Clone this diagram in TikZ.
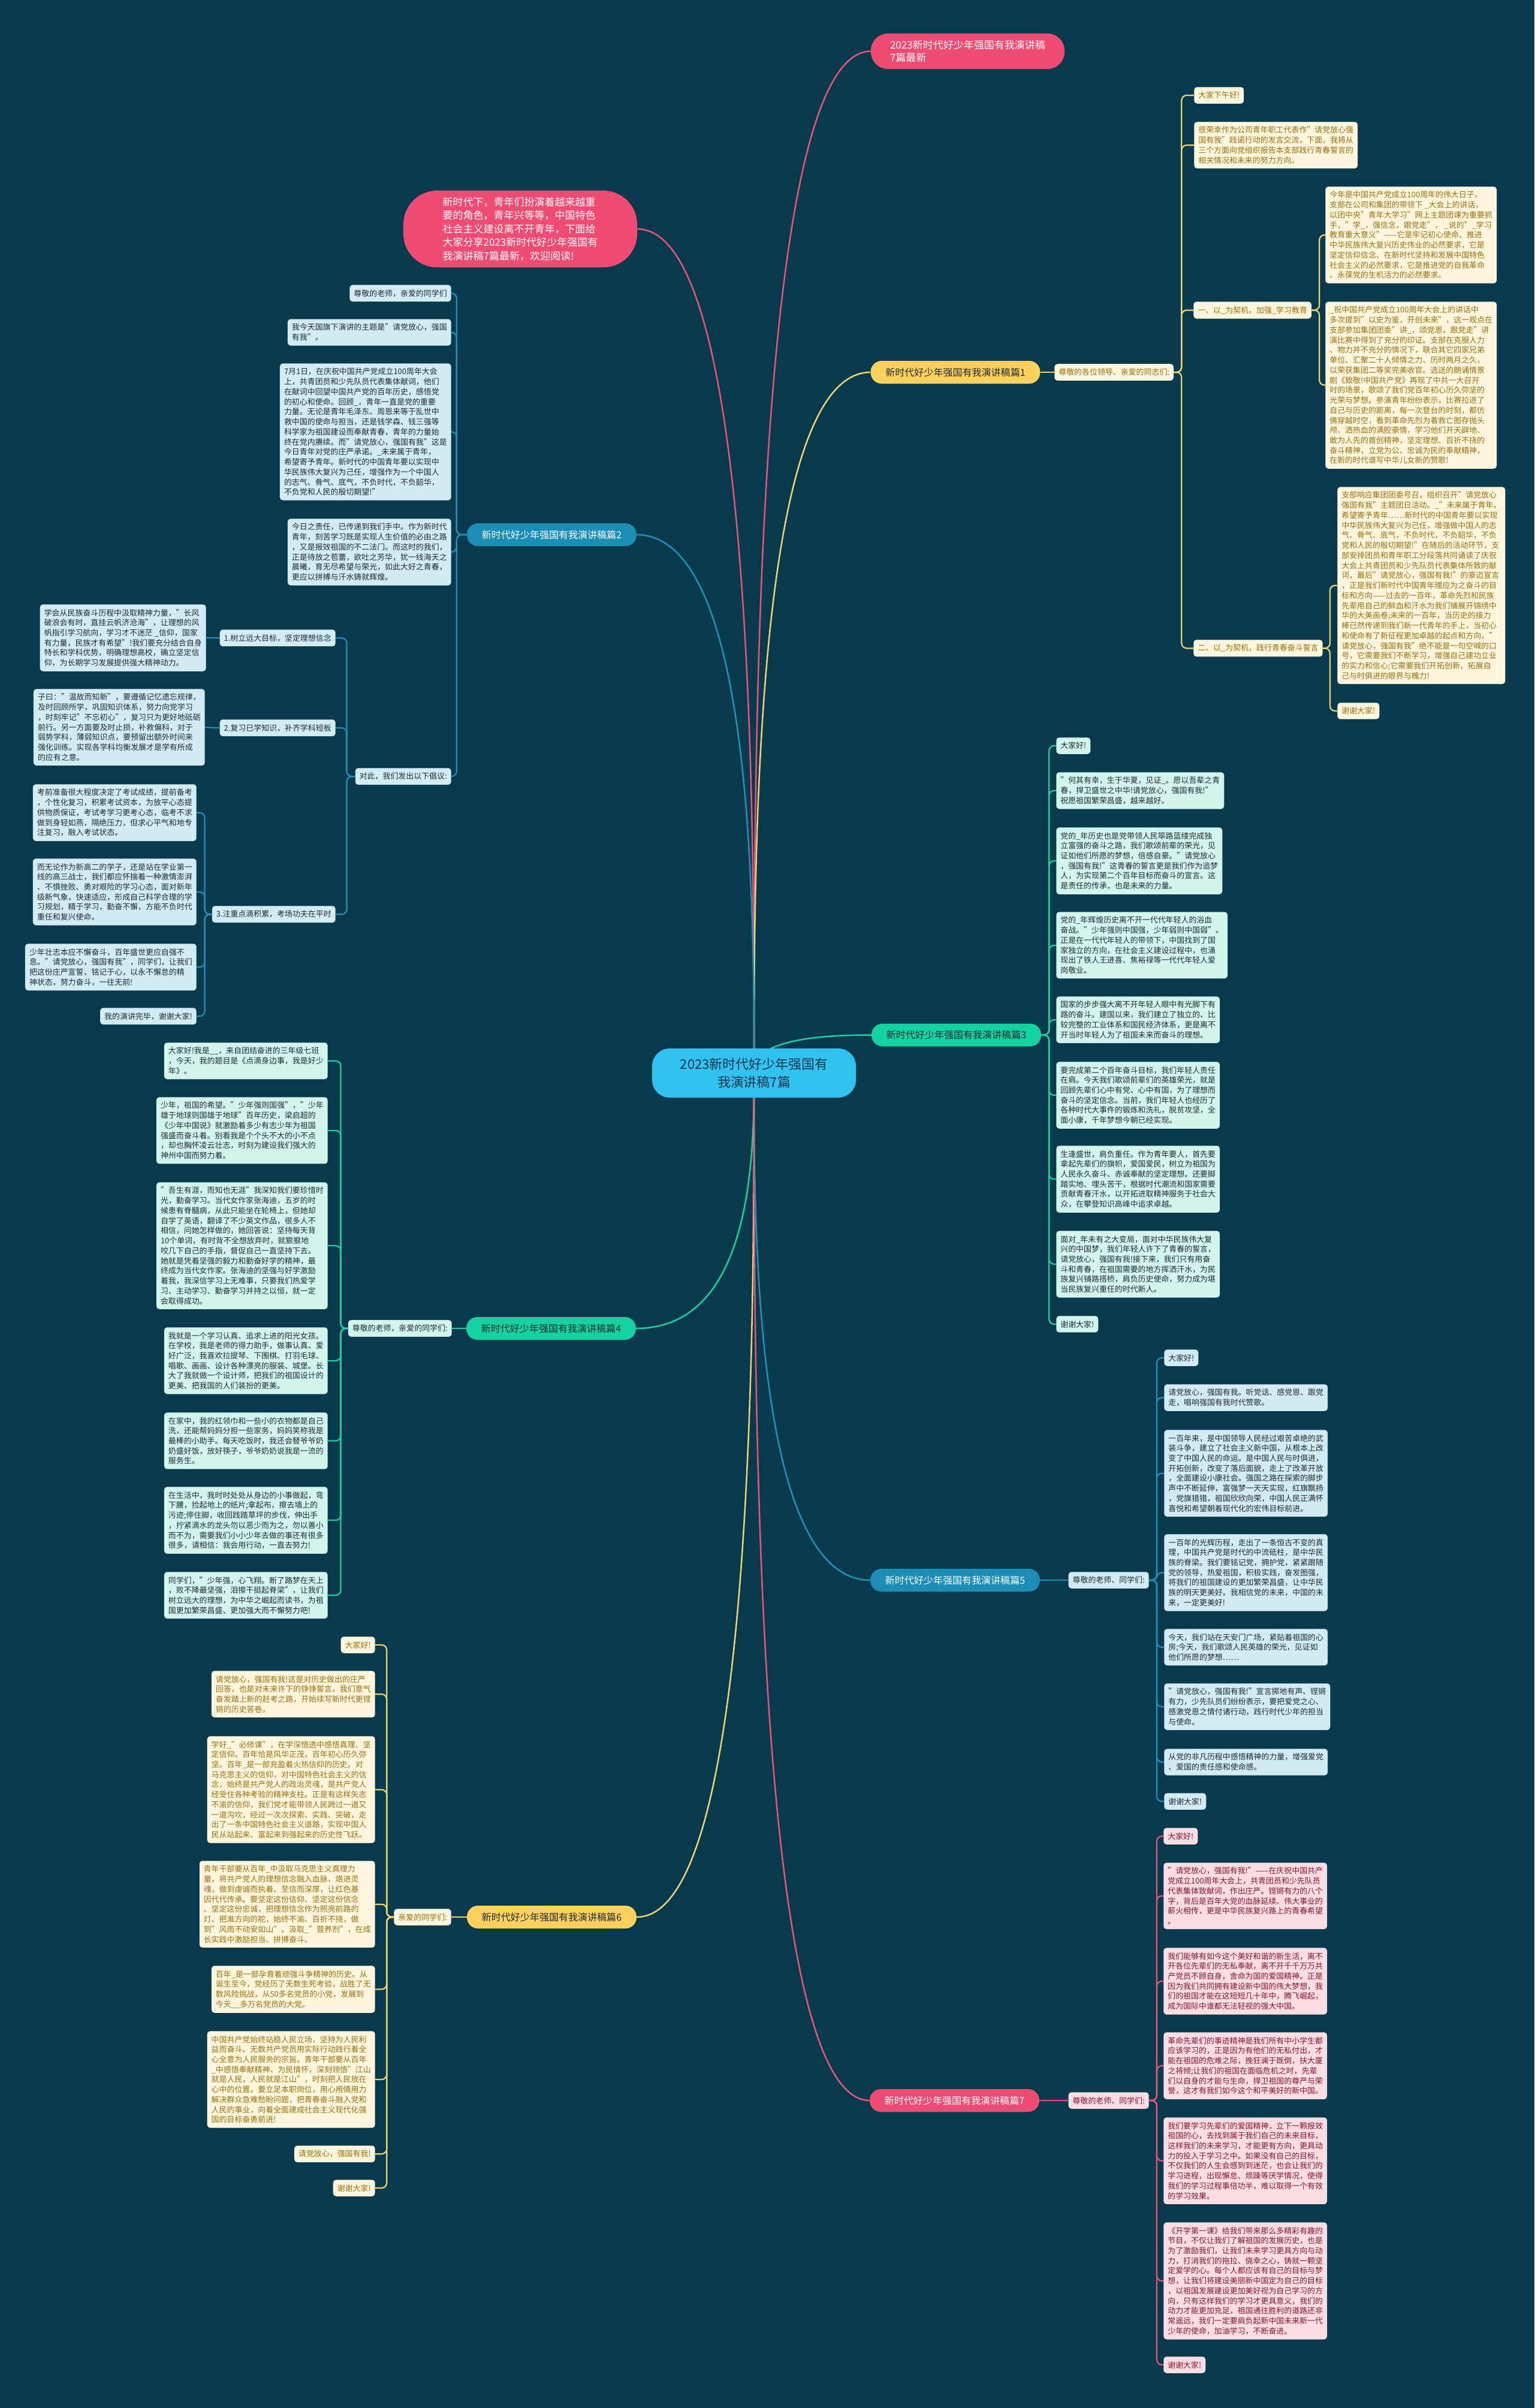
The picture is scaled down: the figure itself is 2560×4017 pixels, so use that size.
\documentclass[tikz,border=0pt]{standalone}
\usepackage{fontspec}
\setmainfont{Noto Sans CJK SC}
\usetikzlibrary{calc,backgrounds}

\definecolor{bgdark}{HTML}{083A4D}
\definecolor{pinkmain}{HTML}{EF4B73}
\definecolor{cyanmain}{HTML}{30C3F2}
\definecolor{yelmain}{HTML}{FDD15B}
\definecolor{bluemain}{HTML}{1B8EB7}
\definecolor{greenmain}{HTML}{14D3A0}
\definecolor{roottext}{HTML}{173447}
\definecolor{darktext}{HTML}{1D2B33}
\definecolor{creamfill}{HTML}{FFF6DD}
\definecolor{goldtext}{HTML}{97700E}
\definecolor{bluefill}{HTML}{D3ECF3}
\definecolor{mintfill}{HTML}{D2F6EC}
\definecolor{pinkfill}{HTML}{FBDDE3}
\definecolor{pinktext}{HTML}{861438}
\definecolor{yelline}{HTML}{F2D070}
\definecolor{blueline}{HTML}{1E90BA}
\definecolor{greenline}{HTML}{16D0A0}
\definecolor{pinkline}{HTML}{E8537A}

\newcommand\rootfont{\fontsize{15.6}{21.3}\selectfont}
\newcommand\headfont{\fontsize{12.1}{15}\selectfont}
\newcommand\introfont{\fontsize{12.1}{16}\selectfont}
\newcommand\branchfont{\fontsize{11.4}{13}\selectfont}
\newcommand\leaffont{\fontsize{9.2}{11.9}\selectfont}

\begin{document}
\begin{tikzpicture}[x=0.025cm, y=-0.025cm,
  rootbox/.style={fill=cyanmain, text=roottext, rounded corners=21pt,
                  minimum width=8.5cm, minimum height=2.05cm,
                  align=center, font=\rootfont},
  headbox/.style={fill=pinkmain, text=white, align=left, font=\headfont},
  branch/.style={rounded corners=13pt, minimum width=7.07cm,
                 minimum height=0.95cm, font=\branchfont, inner sep=0pt},
  leaf/.style={rounded corners=3.5pt, align=left, font=\leaffont,
               inner xsep=5pt, inner ysep=5.5pt},
  leafY/.style={leaf, fill=creamfill, text=goldtext},
  leafB/.style={leaf, fill=bluefill, text=darktext},
  leafG/.style={leaf, fill=mintfill, text=darktext},
  leafP/.style={leaf, fill=pinkfill, text=pinktext},
  trunk/.style={line width=1.8pt},
  link/.style={line width=1.6pt, rounded corners=6pt}
]
%% Centre and the two pink heads
\node[rootbox] (root) at (1258,1790) {2023新时代好少年强国有\\我演讲稿7篇};
\node[headbox, rounded corners=20pt, minimum width=8.075cm, minimum height=1.475cm]
  (title) at (1614.5,85.5) {2023新时代好少年强国有我演讲稿\\7篇最新};
\node[headbox, font=\introfont, rounded corners=40pt, minimum width=9.75cm, minimum height=3.2cm]
  (intro) at (868,382) {新时代下，青年们扮演着越来越重\\要的角色，青年兴等等，中国特色\\社会主义建设离不开青年，下面给\\大家分享2023新时代好少年强国有\\我演讲稿7篇最新，欢迎阅读!};

%% Branch nodes
\node[branch, fill=yelmain, text=darktext] (b1) at (1594,621) {新时代好少年强国有我演讲稿篇1};
\node[branch, fill=bluemain, text=white] (b2) at (920.5,892) {新时代好少年强国有我演讲稿篇2};
\node[branch, fill=greenmain, text=darktext] (b3) at (1595.5,1726.5) {新时代好少年强国有我演讲稿篇3};
\node[branch, fill=greenmain, text=darktext] (b4) at (919.5,2216) {新时代好少年强国有我演讲稿篇4};
\node[branch, fill=bluemain, text=white] (b5) at (1593.5,2636) {新时代好少年强国有我演讲稿篇5};
\node[branch, fill=yelmain, text=darktext] (b6) at (920.5,3198) {新时代好少年强国有我演讲稿篇6};
\node[branch, fill=pinkmain, text=white] (b7) at (1592.5,3504) {新时代好少年强国有我演讲稿篇7};

%% Part 1
\node[leafY, anchor=west] (l1) at (1759,621) {尊敬的各位领导、亲爱的同志们:};
\node[leafY, anchor=north west] (p1a) at (1992,145) {大家下午好!};
\node[leafY, anchor=north west] (p1b) at (1992,203) {很荣幸作为公司青年职工代表作"请党放心强\\国有我"践诺行动的发言交流，下面，我将从\\三个方面向党组织报告本支部践行青春誓言的\\相关情况和未来的努力方向。};
\node[leafY, anchor=north west] (p1c) at (1991,503) {一、以\_为契机，加强\_学习教育};
\node[leafY, anchor=north west] (p1c1) at (2211,311) {今年是中国共产党成立100周年的伟大日子，\\支部在公司和集团的带领下 \_大会上的讲话，\\以团中央"青年大学习"网上主题团课为重要抓\\手，"学\_，强信念，跟党走"， \_说的"\_学习\\教育重大意义"——它是牢记初心使命、推进\\中华民族伟大复兴历史伟业的必然要求，它是\\坚定信仰信念、在新时代坚持和发展中国特色\\社会主义的必然要求，它是推进党的自我革命\\、永葆党的生机活力的必然要求。};
\node[leafY, anchor=north west] (p1c2) at (2211,503) {\_祝中国共产党成立100周年大会上的讲话中\\多次提到"以史为鉴，开创未来"，这一观点在\\支部参加集团团委"讲\_，颂党恩，跟党走"讲\\演比赛中得到了充分的印证。支部在克服人力\\、物力并不充分的情况下，联合其它四家兄弟\\单位、汇聚二十人倾情之力、历时两月之久，\\以荣获集团二等奖完美收官。选送的朗诵情景\\剧《致敬!中国共产党》再现了中共一大召开\\时的场景，歌颂了我们党百年初心历久弥坚的\\光荣与梦想。参演青年纷纷表示，比赛拉进了\\自己与历史的距离，每一次登台的时刻，都仿\\佛穿越时空，看到革命先烈为着救亡图存抛头\\颅、洒热血的满腔豪情，学习他们开天辟地、\\敢为人先的首创精神，坚定理想、百折不挠的\\奋斗精神，立党为公、忠诚为民的奉献精神，\\在新的时代谱写中华儿女新的赞歌!};
\node[leafY, anchor=north west] (p1d) at (1991,1067) {二、以\_为契机，践行青春奋斗誓言};
\node[leafY, anchor=north west] (p1d1) at (2231,812) {支部响应集团团委号召，组织召开"请党放心\\强国有我"主题团日活动。\_"未来属于青年，\\希望寄予青年……新时代的中国青年要以实现\\中华民族伟大复兴为己任，增强做中国人的志\\气、骨气、底气，不负时代，不负韶华，不负\\党和人民的殷切期望!"在随后的活动环节，支\\部安排团员和青年职工分段落共同诵读了庆祝\\大会上共青团员和少先队员代表集体所致的献\\词，最后"请党放心，强国有我!"的豪迈宣言\\，正是我们新时代中国青年理应为之奋斗的目\\标和方向——过去的一百年，革命先烈和民族\\先辈用自己的鲜血和汗水为我们铺展开锦绣中\\华的大美画卷;未来的一百年，当历史的接力\\棒已然传递到我们新一代青年的手上，当初心\\和使命有了新征程更加卓越的起点和方向，"\\请党放心，强国有我"绝不能是一句空喊的口\\号，它需要我们不断学习，增强自己建功立业\\的实力和信心;它需要我们开拓创新，拓展自\\己与时俱进的眼界与魄力!};
\node[leafY, anchor=north west] (p1d2) at (2231,1172) {谢谢大家!};

%% Part 2
\node[leafB, anchor=north east] (p2a) at (753,475) {尊敬的老师，亲爱的同学们};
\node[leafB, anchor=north east] (p2b) at (753,532) {我今天国旗下演讲的主题是"请党放心，强国\\有我"。};
\node[leafB, anchor=north east] (p2c) at (753,606) {7月1日，在庆祝中国共产党成立100周年大会\\上，共青团员和少先队员代表集体献词，他们\\在献词中回望中国共产党的百年历史，感悟党\\的初心和使命。回顾\_，青年一直是党的重要\\力量。无论是青年毛泽东、周恩来等于乱世中\\救中国的使命与担当，还是钱学森、钱三强等\\科学家为祖国建设而奉献青春，青年的力量始\\终在党内赓续。而"请党放心，强国有我"这是\\今日青年对党的庄严承诺。\_未来属于青年，\\希望寄予青年。新时代的中国青年要以实现中\\华民族伟大复兴为己任，增强作为一个中国人\\的志气、骨气、底气，不负时代，不负韶华，\\不负党和人民的殷切期望!"};
\node[leafB, anchor=north east] (p2d) at (753,865) {今日之责任，已传递到我们手中。作为新时代\\青年，刻苦学习既是实现人生价值的必由之路\\，又是报效祖国的不二法门。而这时的我们，\\正是待放之苞蕾，欲吐之芳华，犹一线海天之\\晨曦，育无尽希望与荣光，如此大好之青春，\\更应以拼搏与汗水铸就辉煌。};
\node[leafB, anchor=north east] (p2e) at (753,1281) {对此，我们发出以下倡议:};
\node[leafB, anchor=north east] (p2e1) at (560,1050) {1.树立远大目标，坚定理想信念};
\node[leafB, anchor=north east] (p2e1a) at (344,1008) {学会从民族奋斗历程中汲取精神力量，"长风\\破浪会有时，直挂云帆济沧海"，让理想的风\\帆指引学习航向，学习才不迷茫 \_信仰，国家\\有力量，民族才有希望"!我们要充分结合自身\\特长和学科优势，明确理想高校，确立坚定信\\仰，为长期学习发展提供强大精神动力。};
\node[leafB, anchor=north east] (p2e2) at (560,1200) {2.复习已学知识，补齐学科短板};
\node[leafB, anchor=north east] (p2e2a) at (342,1149) {子曰："温故而知新"，要遵循记忆遗忘规律，\\及时回顾所学，巩固知识体系，努力向党学习\\，时刻牢记"不忘初心"，复习只为更好地砥砺\\前行。另一方面要及时止损，补救偏科，对于\\弱势学科，薄弱知识点，要预留出额外时间来\\强化训练。实现各学科均衡发展才是学有所成\\的应有之意。};
\node[leafB, anchor=north east] (p2e3) at (560,1511) {3.注重点滴积累，考场功夫在平时};
\node[leafB, anchor=north east] (p2e3a) at (328,1308) {考前准备很大程度决定了考试成绩，提前备考\\，个性化复习，积累考试资本，为放平心态提\\供物质保证，考试考学习更考心态，临考不求\\做到身轻如燕，隔绝压力，但求心平气和地专\\注复习，融入考试状态。};
\node[leafB, anchor=north east] (p2e3b) at (328,1432) {而无论作为新高二的学子，还是站在学业第一\\线的高三战士，我们都应怀揣着一种激情澎湃\\、不惧挫败、勇对艰险的学习心态，面对新年\\级新气象，快速适应，形成自己科学合理的学\\习规划，精于学习，勤奋不懈，方能不负时代\\重任和复兴使命。};
\node[leafB, anchor=north east] (p2e3c) at (328,1574) {少年壮志本应不懈奋斗，百年盛世更应自强不\\息。"请党放心，强国有我"，同学们，让我们\\把这份庄严宣誓，铭记于心，以永不懈怠的精\\神状态，努力奋斗，一往无前!};
\node[leafB, anchor=north east] (p2e3d) at (328,1681) {我的演讲完毕，谢谢大家!};

%% Part 3
\node[leafG, anchor=north west] (p3a) at (1762,1230) {大家好!};
\node[leafG, anchor=north west] (p3b) at (1762,1288) {"何其有幸，生于华夏，见证\_。愿以吾辈之青\\春，捍卫盛世之中华!请党放心，强国有我!"\\祝愿祖国繁荣昌盛，越来越好。};
\node[leafG, anchor=north west] (p3c) at (1762,1380) {党的\_年历史也是党带领人民筚路蓝缕完成独\\立富强的奋斗之路，我们歌颂前辈的荣光，见\\证如他们所愿的梦想，倍感自豪。"请党放心\\，强国有我!"这青春的誓言更是我们作为追梦\\人，为实现第二个百年目标而奋斗的宣言。这\\是责任的传承，也是未来的力量。};
\node[leafG, anchor=north west] (p3d) at (1762,1521) {党的\_年辉煌历史离不开一代代年轻人的浴血\\奋战。"少年强则中国强，少年弱则中国弱"。\\正是在一代代年轻人的带领下，中国找到了国\\家独立的方向，在社会主义建设过程中，也涌\\现出了铁人王进喜、焦裕禄等一代代年轻人爱\\岗敬业。};
\node[leafG, anchor=north west] (p3e) at (1762,1662) {国家的步步强大离不开年轻人眼中有光脚下有\\路的奋斗。建国以来，我们建立了独立的、比\\较完整的工业体系和国民经济体系，更是离不\\开当时年轻人为了祖国未来而奋斗的理想。};
\node[leafG, anchor=north west] (p3f) at (1762,1771) {要完成第二个百年奋斗目标，我们年轻人责任\\在肩。今天我们歌颂前辈们的英雄荣光，就是\\回顾先辈们心中有党、心中有国，为了理想而\\奋斗的坚定信念。当前，我们年轻人也经历了\\各种时代大事件的锻炼和洗礼，脱贫攻坚，全\\面小康，千年梦想今朝已经实现。};
\node[leafG, anchor=north west] (p3g) at (1762,1911) {生逢盛世，肩负重任。作为青年要人，首先要\\拿起先辈们的旗帜，爱国爱民，树立为祖国为\\人民永久奋斗、赤诚奉献的坚定理想。还要脚\\踏实地、埋头苦干，根据时代潮流和国家需要\\贡献青春汗水，以开拓进取精神服务于社会大\\众，在攀登知识高峰中追求卓越。};
\node[leafG, anchor=north west] (p3h) at (1762,2053) {面对\_年未有之大变局，面对中华民族伟大复\\兴的中国梦，我们年轻人许下了青春的誓言，\\请党放心，强国有我!接下来，我们只有用奋\\斗和青春，在祖国需要的地方挥洒汗水，为民\\族复兴铺路搭桥，肩负历史使命，努力成为堪\\当民族复兴重任的时代新人。};
\node[leafG, anchor=north west] (p3i) at (1762,2195) {谢谢大家!};

%% Part 4
\node[leafG, anchor=east] (l4) at (754,2216) {尊敬的老师，亲爱的同学们:};
\node[leafG, anchor=north east] (p4a) at (547,1739) {大家好!我是\_\_，来自团结奋进的三年级七班\\，今天，我的题目是《点滴身边事，我是好少\\年》。};
\node[leafG, anchor=north east] (p4b) at (547,1830) {少年，祖国的希望。"少年强则国强"，"少年\\雄于地球则国雄于地球"百年历史，梁启超的\\《少年中国说》就激励着多少有志少年为祖国\\强盛而奋斗着。别看我是个个头不大的小不点\\，却也胸怀凌云壮志，时刻为建设我们强大的\\神州中国而努力着。};
\node[leafG, anchor=north east] (p4c) at (547,1972) {"吾生有涯，而知也无涯"我深知我们要珍惜时\\光，勤奋学习。当代女作家张海迪，五岁的时\\候患有脊髓病，从此只能坐在轮椅上，但她却\\自学了英语，翻译了不少英文作品，很多人不\\相信，问她怎样做的，她回答说：坚持每天背\\10个单词，有时背不全想放弃时，就狠狠地\\咬几下自己的手指，督促自己一直坚持下去。\\她就是凭着坚强的毅力和勤奋好学的精神，最\\终成为当代女作家。张海迪的坚强与好学激励\\着我，我深信学习上无难事，只要我们热爱学\\习、主动学习、勤奋学习并持之以恒，就一定\\会取得成功。};
\node[leafG, anchor=north east] (p4d) at (547,2214) {我就是一个学习认真、追求上进的阳光女孩。\\在学校，我是老师的得力助手，做事认真、爱\\好广泛，我喜欢拉提琴、下围棋、打羽毛球、\\唱歌、画画、设计各种漂亮的服装、城堡。长\\大了我就做一个设计师，把我们的祖国设计的\\更美、把我国的人们装扮的更美。};
\node[leafG, anchor=north east] (p4e) at (547,2356) {在家中，我的红领巾和一些小的衣物都是自己\\洗，还能帮妈妈分担一些家务，妈妈笑称我是\\最棒的小助手。每天吃饭时，我还会替爷爷奶\\奶盛好饭，放好筷子，爷爷奶奶说我是一流的\\服务生。};
\node[leafG, anchor=north east] (p4f) at (547,2480) {在生活中，我时时处处从身边的小事做起，弯\\下腰，捡起地上的纸片;拿起布，擦去墙上的\\污迹;停住脚，收回践踏草坪的步伐，伸出手\\，拧紧滴水的龙头勿以恶少而为之，勿以善小\\而不为，需要我们小小少年去做的事还有很多\\很多，请相信：我会用行动，一直去努力!};
\node[leafG, anchor=north east] (p4g) at (547,2622) {同学们，"少年强，心飞翔。断了路梦在天上\\，败不降最坚强，泪擦干挺起脊梁"，让我们\\树立远大的理想，为中华之崛起而读书，为祖\\国更加繁荣昌盛、更加强大而不懈努力吧!};

%% Part 5
\node[leafB, anchor=east] (l5) at (1917,2636) {尊敬的老师、同学们:};
\node[leafB, anchor=north west] (p5a) at (1942,2251) {大家好!};
\node[leafB, anchor=north west] (p5b) at (1942,2309) {请党放心，强国有我。听党话、感党恩、跟党\\走，唱响强国有我时代赞歌。};
\node[leafB, anchor=north west] (p5c) at (1942,2385) {一百年来，是中国领导人民经过艰苦卓绝的武\\装斗争，建立了社会主义新中国，从根本上改\\变了中国人民的命运。是中国人民与时俱进，\\开拓创新，改变了落后面貌，走上了改革开放\\，全面建设小康社会。强国之路在探索的脚步\\声中不断延伸，富强梦一天天实现，红旗飘扬\\，党旗猎猎，祖国欣欣向荣，中国人民正满怀\\喜悦和希望朝着现代化的宏伟目标前进。};
\node[leafB, anchor=north west] (p5d) at (1942,2559) {一百年的光辉历程，走出了一条恒古不变的真\\理，中国共产党是时代的中流砥柱，是中华民\\族的脊梁。我们要铭记党，拥护党，紧紧跟随\\党的领导，热爱祖国，积极实践，奋发图强，\\将我们的祖国建设的更加繁荣昌盛，让中华民\\族的明天更美好。我相信党的未来，中国的未\\来，一定更美好!};
\node[leafB, anchor=north west] (p5e) at (1942,2717) {今天，我们站在天安门广场，紧贴着祖国的心\\房;今天，我们歌颂人民英雄的荣光，见证如\\他们所愿的梦想……};
\node[leafB, anchor=north west] (p5f) at (1942,2808) {"请党放心，强国有我!"宣言掷地有声、铿锵\\有力，少先队员们纷纷表示，要把爱党之心、\\感激党恩之情付诸行动，践行时代少年的担当\\与使命。};
\node[leafB, anchor=north west] (p5g) at (1942,2917) {从党的非凡历程中感悟精神的力量，增强爱党\\、爱国的责任感和使命感。};
\node[leafB, anchor=north west] (p5h) at (1942,2991) {谢谢大家!};

%% Part 6
\node[leafY, anchor=east] (l6) at (753,3198) {亲爱的同学们:};
\node[leafY, anchor=north east] (p6a) at (626,2730) {大家好!};
\node[leafY, anchor=north east] (p6b) at (626,2787) {请党放心，强国有我!这是对历史做出的庄严\\回答，也是对未来许下的铮铮誓言。我们意气\\奋发踏上新的赶考之路，开始续写新时代更铿\\锵的历史答卷。};
\node[leafY, anchor=north east] (p6c) at (626,2896) {学好\_"必修课"，在学深悟透中感悟真理、坚\\定信仰。百年恰是风华正茂，百年初心历久弥\\坚。百年\_是一部充盈着火热信仰的历史。对\\马克思主义的信仰，对中国特色社会主义的信\\念，始终是共产党人的政治灵魂，是共产党人\\经受住各种考验的精神支柱。正是有这样矢志\\不渝的信仰，我们党才能带领人民跨过一道又\\一道沟坎，经过一次次探索、实践、突破，走\\出了一条中国特色社会主义道路，实现中国人\\民从站起来、富起来到强起来的历史性飞跃。};
\node[leafY, anchor=north east] (p6d) at (626,3104) {青年干部要从百年\_中汲取马克思主义真理力\\量，将共产党人的理想信念融入血脉、烙进灵\\魂，做到虔诚而执着、至信而深厚，让红色基\\因代代传承。要坚定这份信仰、坚定这份信念\\、坚定这份忠诚，把理想信念作为照亮前路的\\灯、把准方向的舵，始终不渝、百折不挠，做\\到"风雨不动安如山"。汲取\_"营养剂"，在成\\长实践中激励担当、拼搏奋斗。};
\node[leafY, anchor=north east] (p6e) at (626,3279) {百年\_是一部孕育着顽强斗争精神的历史。从\\诞生至今，党经历了无数生死考验，战胜了无\\数风险挑战，从50多名党员的小党，发展到\\今天\_\_多万名党员的大党。};
\node[leafY, anchor=north east] (p6f) at (626,3388) {中国共产党始终站稳人民立场，坚持为人民利\\益而奋斗。无数共产党员用实际行动践行着全\\心全意为人民服务的宗旨。青年干部要从百年\\\_中感悟奉献精神、为民情怀，深刻领悟"江山\\就是人民，人民就是江山"，时刻把人民放在\\心中的位置。要立足本职岗位，用心用情用力\\解决群众急难愁盼问题，把青春奋斗融入党和\\人民的事业，向着全面建成社会主义现代化强\\国的目标奋勇前进!};
\node[leafY, anchor=north east] (p6g) at (626,3579) {请党放心，强国有我!};
\node[leafY, anchor=north east] (p6h) at (626,3636) {谢谢大家!};

%% Part 7
\node[leafP, anchor=east] (l7) at (1917,3504) {尊敬的老师、同学们:};
\node[leafP, anchor=north west] (p7a) at (1941,3049) {大家好!};
\node[leafP, anchor=north west] (p7b) at (1941,3107) {"请党放心，强国有我!"——在庆祝中国共产\\党成立100周年大会上，共青团员和少先队员\\代表集体致献词，作出庄严。铿锵有力的八个\\字，背后是百年大党的血脉延续、伟大事业的\\薪火相传，更是中华民族复兴路上的青春希望\\。};
\node[leafP, anchor=north west] (p7c) at (1941,3249) {我们能够有如今这个美好和谐的新生活，离不\\开各位先辈们的无私奉献，离不开千千万万共\\产党员不顾自身，舍命为国的爱国精神。正是\\因为我们共同拥有建设新中国的伟大梦想，我\\们的祖国才能在这短短几十年中，腾飞崛起，\\成为国际中谁都无法轻视的强大中国。};
\node[leafP, anchor=north west] (p7d) at (1941,3390) {革命先辈们的事迹精神是我们所有中小学生都\\应该学习的，正是因为有他们的无私付出，才\\能在祖国的危难之际，挽狂澜于既倒，扶大厦\\之将倾;让我们的祖国在面临危机之时，先辈\\们以自身的才能与生命，捍卫祖国的尊严与荣\\誉，这才有我们如今这个和平美好的新中国。};
\node[leafP, anchor=north west] (p7e) at (1941,3532) {我们要学习先辈们的爱国精神，立下一颗报效\\祖国的心，去找到属于我们自己的未来目标，\\这样我们的未来学习，才能更有方向，更具动\\力的投入于学习之中。如果没有自己的目标，\\不仅我们的人生会感到到迷茫，也会让我们的\\学习进程，出现懈怠、烦躁等厌学情况，使得\\我们的学习过程事倍功半，难以取得一个有效\\的学习效果。};
\node[leafP, anchor=north west] (p7f) at (1941,3707) {《开学第一课》给我们带来那么多精彩有趣的\\节目，不仅让我们了解祖国的发展历史，也是\\为了激励我们，让我们未来学习更具方向与动\\力，打消我们的拖拉、侥幸之心，铸就一颗坚\\定爱学的心。每个人都应该有自己的目标与梦\\想，让我们将建设美丽新中国定为自己的目标\\，以祖国发展建设更加美好视为自己学习的方\\向，只有这样我们的学习才更具意义，我们的\\动力才能更加充足，祖国通往胜利的道路还非\\常遥远，我们一定要肩负起新中国未来新一代\\少年的使命，加油学习，不断奋进。};
\node[leafP, anchor=north west] (p7g) at (1941,3931) {谢谢大家!};

%% Background and connectors
\begin{scope}[on background layer]
\fill[bgdark] (0,0) rectangle (2560,4017);

% centre to heads and branches
\foreach \b/\s/\c in {title/west/pinkline, intro/east/pinkline, b1/west/yelline,
    b2/east/blueline, b3/west/greenline, b4/east/greenline, b5/west/blueline,
    b6/east/yelline, b7/west/pinkline}
  \draw[trunk, draw=\c] (root.center)
    .. controls ($(root.center)!0.3!(root.center |- \b.\s)$) and (root.center |- \b.\s) .. (\b.\s);

% part 1
\draw[link, draw=yelline] (b1.east) -- (l1.west);
\foreach \n in {p1a,p1b,p1c,p1d}
  \draw[link, draw=yelline] (l1.east) -- ++(13,0) |- (\n.west);
\foreach \n in {p1c1,p1c2}
  \draw[link, draw=yelline] (p1c.east) -- ++(13,0) |- (\n.west);
\foreach \n in {p1d1,p1d2}
  \draw[link, draw=yelline] (p1d.east) -- ++(12,0) |- (\n.west);

% part 2
\foreach \n in {p2a,p2b,p2c,p2d,p2e}
  \draw[link, draw=blueline] (b2.west) -- ++(-17,0) |- (\n.east);
\foreach \n in {p2e1,p2e2,p2e3}
  \draw[link, draw=blueline] (p2e.west) -- ++(-14,0) |- (\n.east);
\draw[link, draw=blueline] (p2e1.west) -- (p2e1a.east);
\draw[link, draw=blueline] (p2e2.west) -- (p2e2a.east);
\foreach \n in {p2e3a,p2e3b,p2e3c,p2e3d}
  \draw[link, draw=blueline] (p2e3.west) -- ++(-12,0) |- (\n.east);

% part 3
\foreach \n in {p3a,p3b,p3c,p3d,p3e,p3f,p3g,p3h,p3i}
  \draw[link, draw=greenline] (b3.east) -- ++(13,0) |- (\n.west);

% part 4
\draw[link, draw=greenline] (b4.west) -- (l4.east);
\foreach \n in {p4a,p4b,p4c,p4d,p4e,p4f,p4g}
  \draw[link, draw=greenline] (l4.west) -- ++(-12,0) |- (\n.east);

% part 5
\draw[link, draw=blueline] (b5.east) -- (l5.west);
\foreach \n in {p5a,p5b,p5c,p5d,p5e,p5f,p5g,p5h}
  \draw[link, draw=blueline] (l5.east) -- ++(13,0) |- (\n.west);

% part 6
\draw[link, draw=yelline] (b6.west) -- (l6.east);
\foreach \n in {p6a,p6b,p6c,p6d,p6e,p6f,p6g,p6h}
  \draw[link, draw=yelline] (l6.west) -- ++(-12,0) |- (\n.east);

% part 7
\draw[link, draw=pinkline] (b7.east) -- (l7.west);
\foreach \n in {p7a,p7b,p7c,p7d,p7e,p7f,p7g}
  \draw[link, draw=pinkline] (l7.east) -- ++(13,0) |- (\n.west);
\end{scope}
\end{tikzpicture}
\end{document}
